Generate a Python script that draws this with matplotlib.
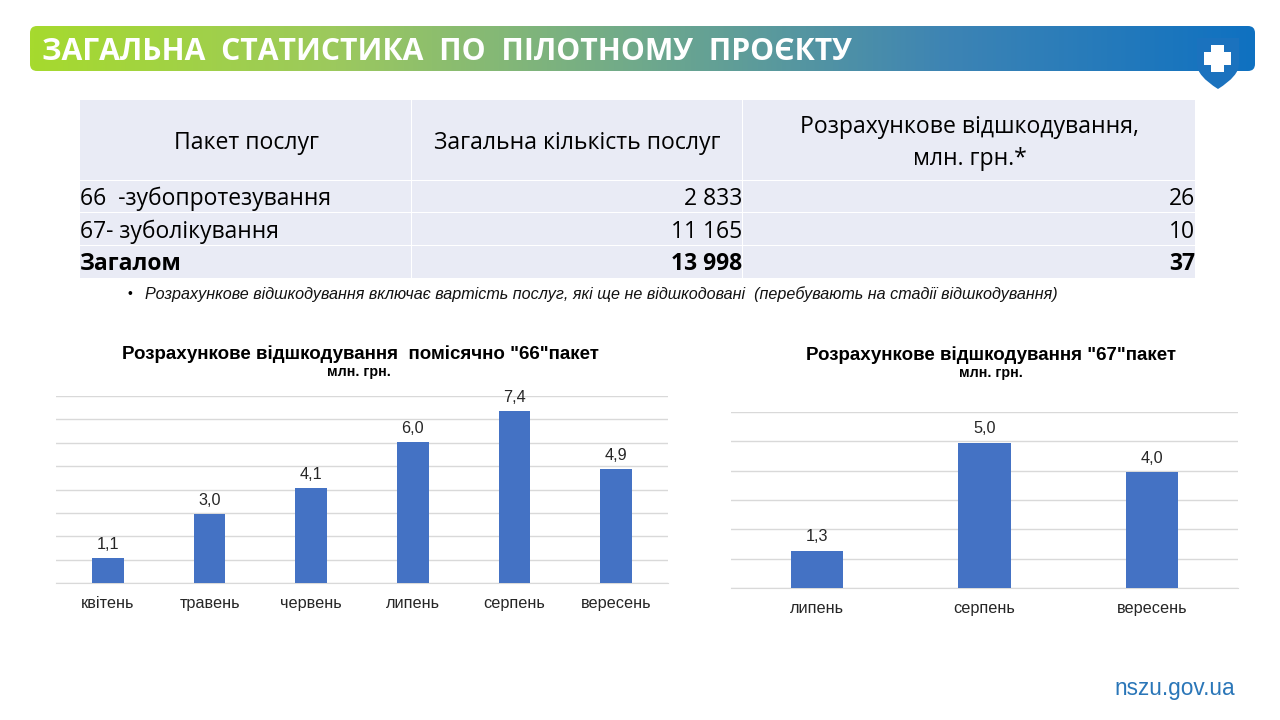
import matplotlib
matplotlib.use('Agg')
import matplotlib.pyplot as plt
import numpy as np
from matplotlib.colors import LinearSegmentedColormap
from matplotlib.patches import FancyBboxPatch, PathPatch, Rectangle
from matplotlib.path import Path

W, H = 1280, 720
TABLE_FONT = ['Open Sans', 'DejaVu Sans']
CHART_FONT = ['Liberation Sans', 'DejaVu Sans']
BAR_COLOR = '#4472C4'
GRID_COLOR = '#D9D9D9'

title = 'ЗАГАЛЬНА  СТАТИСТИКА  ПО  ПІЛОТНОМУ  ПРОЄКТУ'
table_header = ['Пакет послуг', 'Загальна кількість послуг', 'Розрахункове відшкодування,\nмлн. грн.*']
table_names = ['66  -зубопротезування', '67- зуболікування', 'Загалом']
table_services = ['2 833', '11 165', '13 998']
table_payments = ['26', '10', '37']
footnote = 'Розрахункове відшкодування включає вартість послуг, які ще не відшкодовані  (перебувають на стадії відшкодування)'

months_66 = ['квітень', 'травень', 'червень', 'липень', 'серпень', 'вересень']
values_66 = [1.07, 2.96, 4.06, 6.03, 7.36, 4.87]
months_67 = ['липень', 'серпень', 'вересень']
values_67 = [1.27, 4.96, 3.96]

fig = plt.figure(figsize=(W / 100, H / 100), dpi=100, facecolor='white')

# pixel canvas for the banner, the table and the loose text
bg = fig.add_axes([0, 0, 1, 1])
bg.set_xlim(0, W)
bg.set_ylim(H, 0)
bg.axis('off')

cmap = LinearSegmentedColormap.from_list('banner', ['#A6DA2E', '#9CC95E', '#6FA98C', '#3D84B4', '#0F71C1'])
grad = bg.imshow(np.linspace(0, 1, 512).reshape(1, -1), extent=(30, 1255, 71, 26), cmap=cmap, aspect='auto')
bg.set_xlim(0, W)
bg.set_ylim(H, 0)
box = FancyBboxPatch((36, 32), 1213, 33, boxstyle='round,pad=6,rounding_size=7', transform=bg.transData,
                     fc='none', ec='none')
bg.add_patch(box)
grad.set_clip_path(box)
bg.text(42, 52, title, color='white', fontsize=21.7, fontweight='bold', family=TABLE_FONT, va='center', ha='left')

# shield with the cross
verts = [(1197, 38), (1239, 38), (1239, 64), (1239, 76), (1218, 89), (1218, 89), (1197, 76), (1197, 64), (1197, 38)]
codes = [Path.MOVETO, Path.LINETO, Path.LINETO, Path.CURVE3, Path.CURVE3, Path.LINETO, Path.CURVE3, Path.CURVE3, Path.CLOSEPOLY]
bg.add_patch(PathPatch(Path(verts, codes), fc='#1B72BE', ec='none'))
bg.add_patch(Rectangle((1211, 45), 13, 27, fc='white', ec='none'))
bg.add_patch(Rectangle((1204, 52), 27, 13, fc='white', ec='none'))

# table
col_x = [80, 412, 743, 1196]
row_y = [100, 181, 213, 246, 279]
for c in range(3):
    for r in range(4):
        bg.add_patch(Rectangle((col_x[c], row_y[r]), col_x[c + 1] - col_x[c] - 1, row_y[r + 1] - row_y[r] - 1,
                               fc='#E9EBF5', ec='none'))
    bg.text((col_x[c] + col_x[c + 1]) / 2, 143, table_header[c], ha='center', va='center',
            fontsize=16.6, family=TABLE_FONT, color='black', linespacing=1.45)
for r in range(3):
    yc = (row_y[r + 1] + row_y[r + 2]) / 2 + 2
    weight = 'bold' if r == 2 else 'normal'
    bg.text(80, yc, table_names[r], ha='left', va='center', fontsize=16.5, family=TABLE_FONT, fontweight=weight)
    bg.text(742, yc, table_services[r], ha='right', va='center', fontsize=16.5, family=TABLE_FONT, fontweight=weight)
    bg.text(1195, yc, table_payments[r], ha='right', va='center', fontsize=16.5, family=TABLE_FONT, fontweight=weight)

bg.text(127, 294, '•', fontsize=10, family=CHART_FONT, va='center')
bg.text(145, 294, footnote, fontsize=11.65, style='italic', family=CHART_FONT, va='center', color='#111111')
bg.text(1235, 689, 'nszu.gov.ua', fontsize=16.3, family=CHART_FONT, color='#2A76B8', ha='right', va='center')


def bar_chart(rect, names, values, ymax):
    left, top, right, bottom = rect
    ax = fig.add_axes([left / W, 1 - bottom / H, (right - left) / W, (bottom - top) / H])
    ax.patch.set_alpha(0)
    x = np.arange(len(names))
    ax.bar(x, values, width=0.31, color=BAR_COLOR, zorder=3)
    ax.set_xlim(-0.51, len(names) - 0.49)
    ax.set_ylim(0, ymax)
    ax.set_yticks(range(ymax + 1))
    ax.set_yticklabels([])
    ax.set_xticks(x)
    ax.set_xticklabels(names, fontsize=11.7, family=CHART_FONT, color='#262626')
    ax.tick_params(length=0)
    ax.tick_params(axis='x', pad=9.5)
    ax.grid(axis='y', color=GRID_COLOR, lw=1, zorder=0)
    for s in ['top', 'left', 'right']:
        ax.spines[s].set_visible(False)
    ax.spines['bottom'].set_color(GRID_COLOR)
    for i, v in enumerate(values):
        ax.annotate(f'{v:.1f}'.replace('.', ','), (i, v), xytext=(0, 4.5), textcoords='offset points', ha='center',
                    va='bottom', fontsize=11.7, family=CHART_FONT, color='#262626', zorder=4)
    return ax


bar_chart((56, 396, 668, 583), months_66, values_66, 8)
bar_chart((731, 412, 1238, 588), months_67, values_67, 6)

bg.text(360, 354, 'Розрахункове відшкодування  помісячно "66"пакет', ha='center', va='center', fontsize=13.5,
        fontweight='bold', family=CHART_FONT)
bg.text(359, 372, 'млн. грн.', ha='center', va='center', fontsize=10.3, fontweight='bold', family=CHART_FONT)
bg.text(991, 355, 'Розрахункове відшкодування "67"пакет', ha='center', va='center', fontsize=13.5,
        fontweight='bold', family=CHART_FONT)
bg.text(991, 373, 'млн. грн.', ha='center', va='center', fontsize=10.3, fontweight='bold', family=CHART_FONT)

fig.savefig('out.png', dpi=100)
